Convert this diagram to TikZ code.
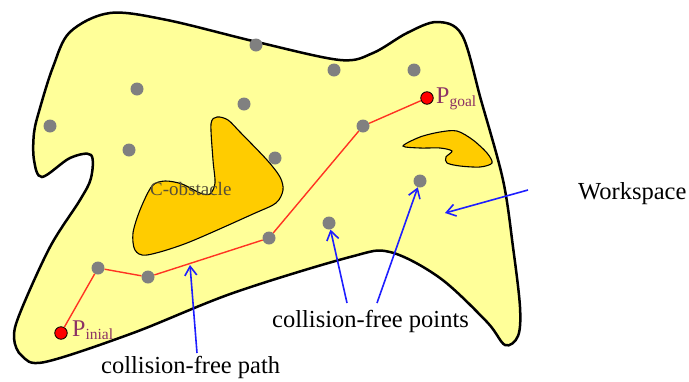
\documentclass[tikz,border=0pt]{standalone}
\usepackage{fontspec}
\setmainfont{Liberation Serif}
\usetikzlibrary{arrows.meta}
\definecolor{wsfill}{RGB}{255,255,153}
\definecolor{obfill}{RGB}{255,204,0}
\definecolor{dotgray}{RGB}{128,128,128}
\definecolor{pathred}{RGB}{255,51,34}
\definecolor{arrblue}{RGB}{30,30,255}
\definecolor{plabel}{RGB}{140,50,100}
\definecolor{obtext}{RGB}{85,78,55}
\begin{document}
\begin{tikzpicture}[x=1pt,y=-1pt,
  freept/.style={circle,fill=dotgray,inner sep=0pt,minimum size=13pt},
  endpt/.style={circle,fill=red,draw=black,line width=0.8pt,inner sep=0pt,minimum size=12.5pt},
  workspace/.style={draw=black,line width=2.5pt,fill=wsfill},
  obstacle/.style={draw=black,line width=1.1pt,fill=obfill},
  route/.style={pathred,line width=1.4pt},
  pointer/.style={arrblue,line width=1.6pt,-{Straight Barb[length=9pt,width=12pt,line width=1.6pt]}},
  lbl/.style={inner sep=0pt,anchor=base west,font=\fontsize{24.5}{28}\selectfont},
  plbl/.style={inner sep=0pt,anchor=base west,text=plabel,font=\fontsize{24}{28}\selectfont}]
\useasboundingbox (0,0) rectangle (689,381);
% workspace blob
\draw[workspace] plot[smooth cycle,tension=0.55] coordinates {
 (110,13) (167,20) (257,42) (340,60) (373,53) (407,33) (437,22) (462,35)
 (481,100) (503,180) (513,247) (520,307) (518,336) (505,345) (487,322)
 (440,278) (390,252) (350,257) (233,293) (133,333) (45,362) (22,356)
 (14,338) (20,313) (50,247) (80,200) (91,178) (91,155) (70,158) (42,177)
 (34,160) (34,133) (40,108) (53,67) (70,32)};
% C-obstacle
\draw[obstacle] plot[smooth cycle,tension=0.5] coordinates {
 (217,117) (228,120) (240,132) (267,160) (280,177) (283,190) (276,203)
 (253,214) (187,243) (147,255) (135,250) (133,233) (140,210) (152,186)
 (165,181) (182,184) (200,193) (210,194) (215,183) (213,160) (211,124)};
% right obstacle
\draw[obstacle] plot[smooth cycle,tension=0.5] coordinates {
 (403,146) (420,137) (440,132) (457,131) (473,140) (487,153) (492,163)
 (480,167) (460,166) (447,163) (446,157) (452,151) (440,148) (420,148)};
\node[obtext,inner sep=0pt,anchor=base west,font=\fontsize{19}{22}\selectfont] (cobs) at (150,195) {C-obstacle};
% sample points
\node[freept] (s1) at (256,45) {};
\node[freept] (s2) at (334,70) {};
\node[freept] (s3) at (414,70) {};
\node[freept] (s4) at (137,89) {};
\node[freept] (s5) at (244,104) {};
\node[freept] (s6) at (50,126) {};
\node[freept] (s7) at (129,150) {};
\node[freept] (s8) at (275,158) {};
\node[freept] (s9) at (420,181) {};
\node[freept] (s10) at (329,223) {};
\node[freept] (r1) at (98,268) {};
\node[freept] (r2) at (148,277) {};
\node[freept] (r3) at (269,238) {};
\node[freept] (r4) at (363,126) {};
\node[endpt] (pi) at (61,333) {};
\node[endpt] (pg) at (427,98) {};
% path
\draw[route] (pi) -- (r1) -- (r2) -- (r3) -- (r4) -- (pg);
% endpoint labels
\node[plbl] (lpi) at (72,336) {P\raisebox{-3pt}{\fontsize{15.5}{18}\selectfont inial}};
\node[plbl] (lpg) at (436,103) {P\raisebox{-3pt}{\fontsize{15.5}{18}\selectfont goal}};
% text labels
\node[lbl] (tws) at (578,199) {Workspace};
\node[lbl] (tpts) at (272,327) {collision-free points};
\node[lbl] (tpath) at (101,373) {collision-free path};
% arrows
\coordinate (wsA) at (528,190);
\coordinate (wsB) at (445,213);
\coordinate (ptA) at (347,303);
\coordinate (ptB) at (377,303);
\coordinate (paA) at (197,353);
\coordinate (paB) at (190,265);
\draw[pointer] (wsA) -- (wsB);
\draw[pointer] (ptA) -- (s10);
\draw[pointer] (ptB) -- (s9);
\draw[pointer] (paA) -- (paB);
\end{tikzpicture}
\end{document}
